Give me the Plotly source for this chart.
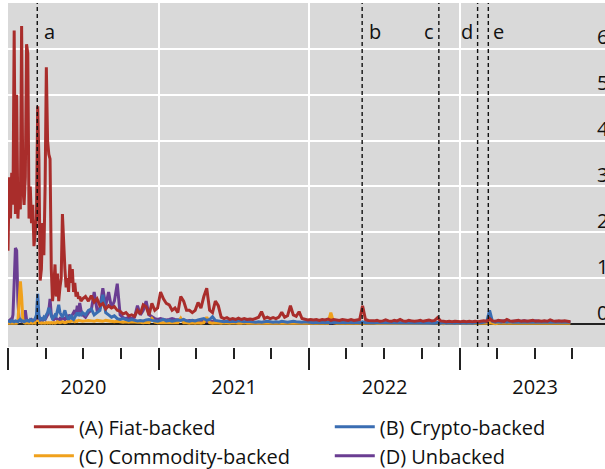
import pandas as pd
import plotly.graph_objects as go

# ---------------- data ----------------
# H1 2020: one value every 3 days from 2020-01-01
START_H1 = "2020-01-01"
# Rest: one value every 7 days from 2020-06-30
START_REST = "2020-06-30"

RED_H1 = [
    1.6, 3.2, 2.3, 3.3, 2.6, 6.4, 2.4, 5.0, 2.3, 2.9,
    2.5, 6.5, 3.0, 2.6, 3.2, 6.1, 5.9, 2.3, 3.0, 2.2,
    2.6, 1.7, 2.0, 2.3, 4.75, 3.6, 0.95, 1.2, 2.2, 1.5,
    3.0, 5.6, 4.0, 3.7, 3.6, 1.2, 0.5, 0.8, 1.3, 0.6,
    1.1, 0.5, 0.8, 1.0, 2.4, 1.6, 1.2, 0.8, 1.0, 0.7,
    1.3, 0.9, 1.2, 0.7, 0.9, 0.6, 0.7, 0.55, 0.6, 0.5,
]
RED_REST = [
    0.55, 0.6, 0.5, 0.62, 0.48, 0.55, 0.4, 0.45, 0.33, 0.4,
    0.35, 0.38, 0.3, 0.28, 0.22, 0.25, 0.18, 0.2, 0.17, 0.3,
    0.22, 0.42, 0.38, 0.2, 0.45, 0.3, 0.35, 0.7, 0.55, 0.45,
    0.42, 0.3, 0.35, 0.25, 0.6, 0.5, 0.3, 0.3, 0.25, 0.3,
    0.47, 0.35, 0.6, 0.78, 0.3, 0.25, 0.5, 0.4, 0.15, 0.12,
    0.14, 0.1, 0.12, 0.1, 0.13, 0.1, 0.12, 0.1, 0.11, 0.1,
    0.12, 0.15, 0.27, 0.12, 0.15, 0.12, 0.14, 0.12, 0.15, 0.26,
    0.15, 0.18, 0.4, 0.2, 0.17, 0.27, 0.12, 0.1, 0.09, 0.1,
    0.09, 0.1, 0.08, 0.1, 0.09, 0.11, 0.08, 0.1, 0.09, 0.08,
    0.1, 0.09, 0.08, 0.1, 0.08, 0.09, 0.1, 0.4, 0.1, 0.08,
    0.07, 0.07, 0.08, 0.06, 0.07, 0.09, 0.07, 0.06, 0.08, 0.07,
    0.1, 0.07, 0.06, 0.08, 0.07, 0.06, 0.07, 0.08, 0.06, 0.07,
    0.09, 0.07, 0.08, 0.14, 0.07, 0.06, 0.05, 0.06, 0.05, 0.06,
    0.05, 0.05, 0.06, 0.05, 0.06, 0.05, 0.06, 0.05, 0.06, 0.07,
    0.06, 0.12, 0.07, 0.06, 0.08, 0.07, 0.06, 0.1, 0.07, 0.06,
    0.07, 0.08, 0.06, 0.07, 0.06, 0.07, 0.08, 0.06, 0.07, 0.06,
    0.07, 0.06, 0.09, 0.07, 0.06, 0.07, 0.06, 0.07, 0.06, 0.05,
]

BLUE_H1 = [
    0.05, 0.06, 0.05, 0.08, 0.06, 0.05, 0.07, 0.06, 0.05, 0.08,
    0.1, 0.06, 0.07, 0.05, 0.06, 0.08, 0.07, 0.06, 0.1, 0.08,
    0.07, 0.09, 0.12, 0.2, 0.66, 0.2, 0.1, 0.12, 0.1, 0.15,
    0.12, 0.2, 0.25, 0.35, 0.3, 0.18, 0.12, 0.15, 0.2, 0.18,
    0.3, 0.42, 0.25, 0.2, 0.15, 0.22, 0.3, 0.2, 0.15, 0.1,
    0.15, 0.2, 0.12, 0.1, 0.15, 0.2, 0.25, 0.18, 0.22, 0.2,
]
BLUE_REST = [
    0.25, 0.2, 0.3, 0.33, 0.2, 0.25, 0.3, 0.64, 0.25, 0.2,
    0.15, 0.18, 0.12, 0.1, 0.12, 0.1, 0.08, 0.1, 0.08, 0.07,
    0.08, 0.07, 0.09, 0.1, 0.08, 0.07, 0.06, 0.08, 0.1, 0.07,
    0.08, 0.06, 0.07, 0.09, 0.08, 0.1, 0.07, 0.06, 0.08, 0.07,
    0.09, 0.1, 0.12, 0.08, 0.1, 0.16, 0.08, 0.07, 0.06, 0.05,
    0.06, 0.05, 0.06, 0.05, 0.07, 0.06, 0.05, 0.06, 0.05, 0.05,
    0.04, 0.05, 0.04, 0.05, 0.06, 0.05, 0.04, 0.05, 0.04, 0.06,
    0.05, 0.04, 0.05, 0.06, 0.05, 0.04, 0.04, 0.05, 0.04, 0.04,
    0.03, 0.04, 0.03, 0.04, 0.03, 0.04, 0.03, 0.04, 0.03, 0.03,
    0.04, 0.03, 0.04, 0.03, 0.03, 0.04, 0.03, 0.05, 0.03, 0.03,
    0.03, 0.02, 0.03, 0.03, 0.02, 0.03, 0.02, 0.03, 0.02, 0.03,
    0.02, 0.03, 0.02, 0.03, 0.02, 0.02, 0.03, 0.02, 0.03, 0.02,
    0.02, 0.03, 0.02, 0.04, 0.02, 0.03, 0.02, 0.03, 0.02, 0.02,
    0.03, 0.02, 0.03, 0.02, 0.03, 0.02, 0.03, 0.04, 0.03, 0.04,
    0.05, 0.3, 0.06, 0.04, 0.05, 0.04, 0.05, 0.04, 0.05, 0.04,
    0.04, 0.05, 0.04, 0.05, 0.04, 0.04, 0.05, 0.04, 0.05, 0.04,
    0.04, 0.05, 0.04, 0.04, 0.05, 0.04, 0.04, 0.05, 0.04, 0.04,
]

ORANGE_H1 = [
    0.02, 0.02, 0.03, 0.02, 0.02, 0.03, 0.02, 0.02, 0.05, 0.5,
    0.93, 0.6, 0.1, 0.03, 0.02, 0.03, 0.02, 0.02, 0.03, 0.02,
    0.02, 0.03, 0.02, 0.03, 0.08, 0.03, 0.02, 0.02, 0.03, 0.02,
    0.02, 0.03, 0.02, 0.03, 0.02, 0.03, 0.02, 0.03, 0.02, 0.03,
    0.05, 0.04, 0.03, 0.04, 0.05, 0.04, 0.03, 0.04, 0.05, 0.06,
    0.05, 0.06, 0.07, 0.06, 0.05, 0.07, 0.06, 0.08, 0.07, 0.06,
]
ORANGE_REST = [
    0.06, 0.07, 0.08, 0.07, 0.06, 0.08, 0.07, 0.06, 0.08, 0.07,
    0.06, 0.05, 0.06, 0.05, 0.04, 0.05, 0.04, 0.05, 0.04, 0.04,
    0.04, 0.03, 0.04, 0.03, 0.12, 0.04, 0.03, 0.03, 0.04, 0.03,
    0.03, 0.04, 0.03, 0.03, 0.13, 0.03, 0.03, 0.02, 0.03, 0.02,
    0.03, 0.02, 0.03, 0.15, 0.03, 0.02, 0.03, 0.02, 0.02, 0.03,
    0.02, 0.02, 0.03, 0.02, 0.02, 0.02, 0.03, 0.02, 0.02, 0.02,
    0.02, 0.02, 0.02, 0.03, 0.02, 0.02, 0.02, 0.02, 0.03, 0.02,
    0.02, 0.02, 0.02, 0.02, 0.02, 0.03, 0.02, 0.02, 0.02, 0.02,
    0.02, 0.02, 0.02, 0.02, 0.03, 0.02, 0.25, 0.03, 0.02, 0.02,
    0.02, 0.02, 0.02, 0.02, 0.02, 0.02, 0.02, 0.03, 0.02, 0.02,
    0.02, 0.02, 0.01, 0.02, 0.02, 0.01, 0.02, 0.02, 0.01, 0.02,
    0.02, 0.01, 0.02, 0.02, 0.01, 0.02, 0.02, 0.01, 0.02, 0.02,
    0.01, 0.02, 0.02, 0.03, 0.02, 0.01, 0.02, 0.02, 0.01, 0.02,
    0.02, 0.01, 0.02, 0.02, 0.01, 0.02, 0.02, 0.02, 0.01, 0.02,
    0.02, 0.03, 0.02, 0.01, 0.02, 0.02, 0.01, 0.02, 0.02, 0.01,
    0.02, 0.02, 0.01, 0.02, 0.02, 0.01, 0.02, 0.02, 0.01, 0.02,
    0.02, 0.01, 0.02, 0.02, 0.01, 0.02, 0.02, 0.01, 0.02, 0.02,
]

PURPLE_H1 = [
    0.05, 0.08, 0.1, 0.06, 0.2, 0.9, 1.66, 1.6, 0.5, 0.1,
    0.08, 0.06, 0.1, 0.12, 0.3, 0.1, 0.08, 0.06, 0.08, 0.1,
    0.07, 0.06, 0.08, 0.1, 0.12, 0.08, 0.07, 0.1, 0.08, 0.12,
    0.1, 0.15, 0.2, 0.3, 0.55, 0.2, 0.12, 0.1, 0.15, 0.12,
    0.1, 0.08, 0.12, 0.1, 0.15, 0.12, 0.1, 0.15, 0.12, 0.2,
    0.15, 0.12, 0.2, 0.25, 0.3, 0.2, 0.4, 0.25, 0.46, 0.3,
]
PURPLE_REST = [
    0.2, 0.15, 0.25, 0.3, 0.7, 0.3, 0.35, 0.78, 0.4, 0.7,
    0.35, 0.5, 0.88, 0.2, 0.14, 0.12, 0.15, 0.12, 0.15, 0.4,
    0.2, 0.3, 0.5, 0.2, 0.15, 0.12, 0.1, 0.12, 0.1, 0.09,
    0.1, 0.12, 0.1, 0.09, 0.1, 0.08, 0.07, 0.08, 0.07, 0.06,
    0.07, 0.06, 0.05, 0.06, 0.05, 0.06, 0.05, 0.04, 0.05, 0.04,
    0.04, 0.05, 0.04, 0.04, 0.03, 0.04, 0.03, 0.04, 0.03, 0.03,
    0.03, 0.02, 0.03, 0.03, 0.02, 0.03, 0.02, 0.03, 0.02, 0.03,
    0.02, 0.03, 0.02, 0.02, 0.03, 0.02, 0.03, 0.02, 0.02, 0.03,
    0.02, 0.02, 0.03, 0.02, 0.02, 0.03, 0.02, 0.02, 0.03, 0.02,
    0.02, 0.03, 0.02, 0.02, 0.03, 0.02, 0.02, 0.03, 0.02, 0.02,
    0.02, 0.03, 0.02, 0.02, 0.03, 0.02, 0.02, 0.03, 0.02, 0.02,
    0.03, 0.02, 0.02, 0.03, 0.02, 0.02, 0.03, 0.02, 0.02, 0.03,
    0.02, 0.02, 0.03, 0.02, 0.02, 0.03, 0.02, 0.02, 0.03, 0.02,
    0.02, 0.03, 0.02, 0.02, 0.03, 0.02, 0.03, 0.03, 0.04, 0.04,
    0.05, 0.06, 0.05, 0.06, 0.05, 0.06, 0.07, 0.06, 0.05, 0.06,
    0.06, 0.05, 0.06, 0.07, 0.06, 0.05, 0.06, 0.07, 0.06, 0.05,
    0.06, 0.05, 0.06, 0.05, 0.06, 0.05, 0.06, 0.05, 0.05, 0.04,
]

SERIES_NAMES = ["(A) Fiat-backed", "(B) Crypto-backed", "(C) Commodity-backed", "(D) Unbacked"]
EVENT_LABELS = ["a", "b", "c", "d", "e"]
EVENT_DATES = ["2020-03-12", "2022-05-09", "2022-11-11", "2023-02-13", "2023-03-11"]
Y_TICKS = [0, 1, 2, 3, 4, 5, 6]

# ---------------- figure ----------------
FONT = "Open Sans, Noto Sans, sans-serif"
FS = 20
COLORS = {"A": "#a92d2b", "B": "#3a6db2", "C": "#f0a11c", "D": "#6a3d92"}


def dates(h1, rest):
    d1 = pd.date_range(START_H1, periods=len(h1), freq="3D")
    d2 = pd.date_range(START_REST, periods=len(rest), freq="7D")
    return list(d1) + list(d2), list(h1) + list(rest)


fig = go.Figure()
series = [
    ("D", SERIES_NAMES[3], PURPLE_H1, PURPLE_REST, "legend2"),
    ("C", SERIES_NAMES[2], ORANGE_H1, ORANGE_REST, "legend"),
    ("B", SERIES_NAMES[1], BLUE_H1, BLUE_REST, "legend2"),
    ("A", SERIES_NAMES[0], RED_H1, RED_REST, "legend"),
]
for key, name, h1, rest, leg in series:
    x, y = dates(h1, rest)
    fig.add_trace(go.Scatter(
        x=x, y=y, mode="lines", name=name, legend=leg,
        line=dict(color=COLORS[key], width=3.0),
    ))

shapes = []
annotations = []
shifts = {"a": 12, "b": 13, "c": -10, "d": -11, "e": 10}
for lab, d in zip(EVENT_LABELS, EVENT_DATES):
    shapes.append(dict(type="line", xref="x", yref="paper", x0=d, x1=d, y0=0, y1=1,
                       line=dict(color="#111111", width=1.4, dash="4px,3px"), layer="above"))
    annotations.append(dict(x=d, xref="x", y=0.916, yref="paper", yanchor="middle",
                            text=lab, showarrow=False, xshift=shifts[lab],
                            font=dict(size=FS, color="#111111", family=FONT)))
for v in Y_TICKS:
    annotations.append(dict(x=1, xref="paper", xanchor="left", xshift=-10, y=v, yref="y",
                            yshift=12, text=str(v), showarrow=False,
                            font=dict(size=FS, color="#111111", family=FONT)))

legend_common = dict(orientation="v", yanchor="top", y=-0.175, xanchor="left",
                     traceorder="reversed", itemwidth=40,
                     font=dict(size=FS, family=FONT, color="#111111"),
                     bgcolor="rgba(0,0,0,0)", tracegroupgap=0)

fig.update_layout(
    width=605, height=469,
    margin=dict(l=8, r=0, t=3, b=122, autoexpand=False),
    paper_bgcolor="white", plot_bgcolor="#d9d9d9",
    font=dict(family=FONT, size=FS, color="#111111"),
    showlegend=True,
    legend=dict(x=0.035, **legend_common),
    legend2=dict(x=0.539, **legend_common),
    shapes=shapes, annotations=annotations,
)
fig.update_xaxes(
    type="date", range=["2020-01-01", "2023-12-19"],
    showgrid=True, gridcolor="white", gridwidth=1.5,
    dtick="M12", tick0="2020-01-01", tickformat="%Y", ticklabelmode="period",
    ticks="outside", ticklen=22, tickwidth=1.5, tickcolor="#222222",
    tickfont=dict(size=FS, family=FONT, color="#111111"),
    minor=dict(dtick="M3", tick0="2020-01-01", ticks="outside", ticklen=11,
               tickwidth=1.5, tickcolor="#222222", showgrid=False),
    showline=False, zeroline=False,
)
fig.update_yaxes(
    range=[-0.5, 7.0], tickvals=Y_TICKS, showticklabels=False,
    showgrid=True, gridcolor="white", gridwidth=1.5,
    zeroline=True, zerolinecolor="#222222", zerolinewidth=1.5,
    ticks="", showline=False,
)

fig.write_html(
    "out.html",
    config={"displayModeBar": False},
    post_script="document.body.style.margin='0';document.body.style.overflow='hidden';",
)
